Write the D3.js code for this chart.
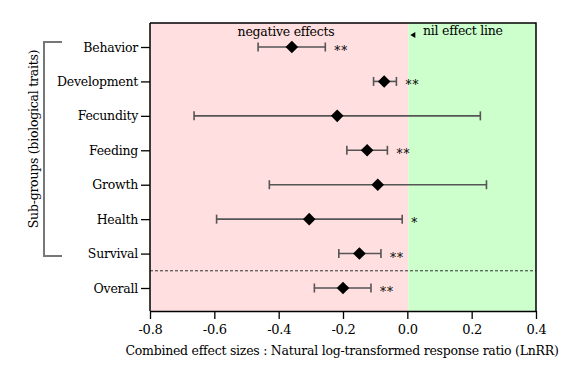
<!DOCTYPE html>
<html><head><meta charset="utf-8">
<script src="https://cdn.jsdelivr.net/npm/d3@7"></script>
</head><body style="margin:0;background:#fff"><svg id="c" width="585" height="369" font-family="DejaVu Serif" letter-spacing="-0.25px"></svg>
<script>
const categories = ["Behavior","Development","Fecundity","Feeding","Growth","Health","Survival","Overall"];
const means  = [-0.359,-0.072,-0.218,-0.125,-0.092,-0.305,-0.149,-0.200];
const lowers = [-0.464,-0.105,-0.663,-0.188,-0.429,-0.593,-0.213,-0.289];
const uppers = [-0.255,-0.034, 0.227,-0.062, 0.246,-0.016,-0.082,-0.113];
const stars  = ["**","**","","**","","*","**","**"];
const xTicks = [-0.8,-0.6,-0.4,-0.2,0.0,0.2,0.4];

const FONT = "DejaVu Serif";
const FS = 12.5;
const svg = d3.select("#c");
const L=150,R=536,T=23,B=311;
const x = d3.scaleLinear().domain([-0.8,0.4]).range([L,R]);
const y = d3.scalePoint().domain(categories).range([47,288]);

svg.append("rect").attr("x",x(-0.8)).attr("y",T).attr("width",x(0)-x(-0.8)+1).attr("height",B-T).attr("fill","#ffdfdf");
svg.append("rect").attr("x",x(0)+1).attr("y",T).attr("width",x(0.4)-x(0)-1).attr("height",B-T).attr("fill","#ccffcc");

const sep = (y("Survival")+y("Overall"))/2;
svg.append("line").attr("x1",L).attr("x2",R).attr("y1",sep).attr("y2",sep).attr("stroke","#333").attr("stroke-width",1).attr("stroke-dasharray","3,2");

svg.append("path").attr("d",`M${L},${T}H${R}V${B}`).attr("fill","none").attr("stroke","#000").attr("stroke-width",1.5);

const xa = svg.append("g").attr("transform",`translate(0,${B})`)
  .call(d3.axisBottom(x).tickValues(xTicks).tickFormat(d3.format(".1f")).tickSize(8).tickSizeOuter(0));
xa.attr("font-family",FONT);
xa.select(".domain").attr("stroke","#000").attr("stroke-width",1.5);
xa.selectAll(".tick line").attr("stroke","#000").attr("stroke-width",1.3);
xa.selectAll("text").attr("font-size",FS+0.5).attr("fill","#000").attr("dy","0.95em").text(d=>d3.format(".1f")(d).replace("−","-"));

const ya = svg.append("g").attr("transform",`translate(${L},0)`)
  .call(d3.axisLeft(y).tickSize(9).tickSizeOuter(0).tickPadding(3));
ya.attr("font-family",FONT);
ya.select(".domain").attr("stroke","#000").attr("stroke-width",1.5).attr("d",`M0,${T}V${B}`);
ya.selectAll(".tick line").attr("stroke","#000").attr("stroke-width",1.3);
ya.selectAll("text").attr("font-size",FS).attr("fill","#000");

const g = svg.append("g");
categories.forEach((c,i)=>{
  const yy=y(c);
  g.append("line").attr("x1",x(lowers[i])).attr("x2",x(uppers[i])).attr("y1",yy).attr("y2",yy).attr("stroke","#555").attr("stroke-width",1.6);
  [lowers[i],uppers[i]].forEach(v=>{
    g.append("line").attr("x1",x(v)).attr("x2",x(v)).attr("y1",yy-4.5).attr("y2",yy+4.5).attr("stroke","#555").attr("stroke-width",1.6);
  });
  const cx=x(means[i]), r=6.3;
  g.append("path").attr("d",`M${cx},${yy-r}L${cx+r},${yy}L${cx},${yy+r}L${cx-r},${yy}Z`).attr("fill","#000");
  if(stars[i]) g.append("text").attr("x",x(uppers[i])+9).attr("y",yy+8).attr("font-size",12).attr("letter-spacing","1px").attr("fill","#000").text(stars[i]);
});

svg.append("text").attr("x",286).attr("y",36).attr("text-anchor","middle").attr("font-size",FS).text("negative effects");
svg.append("path").attr("d",`M${x(0)+3},${35}l5,-3v6Z`).attr("fill","#000");
svg.append("text").attr("x",423).attr("y",35).attr("font-size",FS).text("nil effect line");

svg.append("text").attr("x",342).attr("y",355).attr("text-anchor","middle").attr("font-size",FS).text("Combined effect sizes : Natural log-transformed response ratio (LnRR)");
svg.append("text").attr("transform","translate(38,139) rotate(-90)").attr("text-anchor","middle").attr("font-size",FS).text("Sub-groups (biological traits)");

svg.append("path").attr("d","M62,42H44V256H62").attr("fill","none").attr("stroke","#777").attr("stroke-width",2);
</script></body></html>
